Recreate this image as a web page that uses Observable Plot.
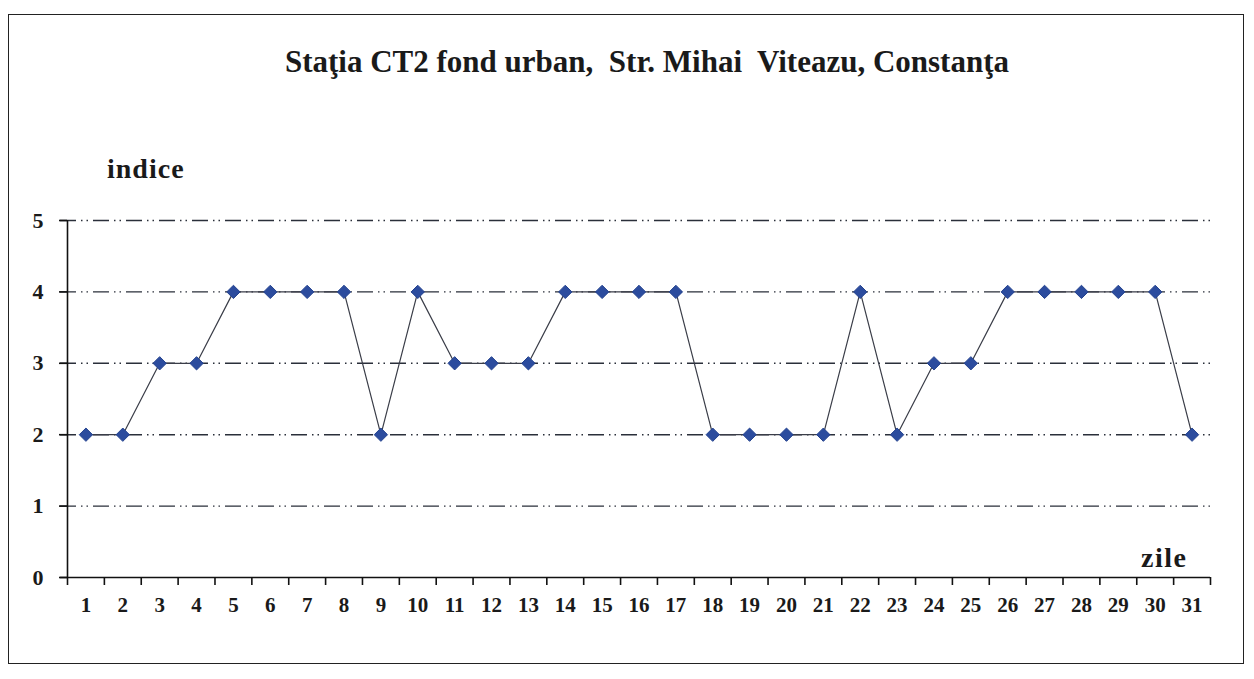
<!DOCTYPE html>
<html>
<head>
<meta charset="utf-8">
<script src="https://cdn.jsdelivr.net/npm/d3@7"></script>
<script src="https://cdn.jsdelivr.net/npm/@observablehq/plot@0.6"></script>
<style>
  html, body { margin: 0; padding: 0; background: #fff; }
  #wrap { position: relative; width: 1254px; height: 679px; overflow: hidden; }
  #frame { position: absolute; left: 8px; top: 14px; width: 1236px; height: 650px; border: 1.5px solid #222; box-sizing: border-box; }
  .lbl { position: absolute; font-family: 'Liberation Serif', 'DejaVu Serif', serif; font-weight: bold; color: #1a1a1a; white-space: nowrap; }
  #title { left: 0; width: 1294px; text-align: center; top: 44px; font-size: 31px; }
  #ylab { left: 107px; top: 153px; font-size: 28px; letter-spacing: 1px; }
  #xlab { left: 1141px; top: 542px; font-size: 28px; letter-spacing: 1.5px; }
  svg { position: absolute; left: 0; top: 0; }
  svg text { font-family: 'Liberation Serif', 'DejaVu Serif', serif; }
</style>
</head>
<body>
<div id="wrap">
  <div id="frame"></div>
  <div id="title" class="lbl">Staţia CT2 fond urban,&nbsp; Str. Mihai&nbsp; Viteazu, Constanţa</div>
  <div id="ylab" class="lbl">indice</div>
  <div id="xlab" class="lbl">zile</div>
</div>
<script>
const days = d3.range(1, 32);
const indice = [2,2,3,3,4,4,4,4,2,4,3,3,3,4,4,4,4,2,2,2,2,4,2,3,3,4,4,4,4,4,2];
const yTicks = [0,1,2,3,4,5];
const gridLevels = [1,2,3,4,5];

const data = days.map((d, i) => ({day: d, value: indice[i]}));
const bounds = d3.range(0.5, 32, 1);

const chart = Plot.plot({
  width: 1254,
  height: 679,
  marginLeft: 67,
  marginRight: 44,
  marginTop: 220,
  marginBottom: 102,
  style: {background: "transparent", fontFamily: "'Liberation Serif', 'DejaVu Serif', serif"},
  x: {type: "linear", domain: [0.5, 31.5]},
  y: {domain: [0, 5]},
  marks: [
    Plot.ruleY(gridLevels, {x1: 0.31, x2: 31.55, stroke: "#2a2f3a", strokeWidth: 1.4, strokeDasharray: "16,5,1.5,4,1.5,5"}),
    Plot.ruleY([0], {x1: 0.31, x2: 31.5, stroke: "#111", strokeWidth: 1.6}),
    Plot.ruleX([0.5], {y1: 0, y2: 5, stroke: "#111", strokeWidth: 1.6}),
    Plot.axisY(yTicks, {tickSize: 8, tickPadding: 16, tickFormat: "d", fontSize: 22, fontWeight: "bold", stroke: "#111", fill: "#1a1a1a", label: null, strokeWidth: 1.6}),
    Plot.axisX(bounds, {tickSize: 8, tickFormat: () => "", stroke: "#111", strokeWidth: 1.6, label: null}),
    Plot.axisX(days, {tickSize: 0, tickPadding: 20, fontSize: 21, fontWeight: "bold", fill: "#1a1a1a", label: null}),
    Plot.line(data, {x: "day", y: "value", stroke: "#3a3d48", strokeWidth: 1.2}),
    Plot.dot(data, {x: "day", y: "value", symbol: "diamond2", r: 6, fill: "#2c4c9e", stroke: "#24438f", strokeWidth: 1})
  ]
});
document.getElementById("wrap").appendChild(chart);
</script>
</body>
</html>
